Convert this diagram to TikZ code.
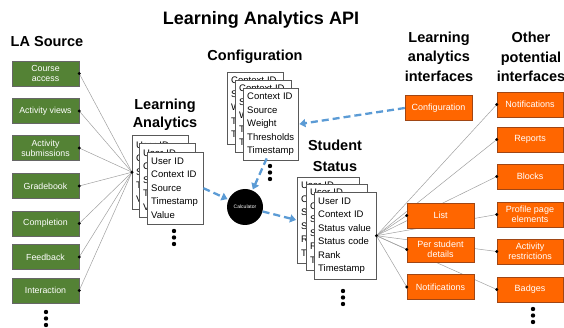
\documentclass[tikz,border=0pt]{standalone}
\usepackage{fontspec}
\setmainfont{Liberation Sans}
\usetikzlibrary{arrows.meta,backgrounds}
\definecolor{lagreen}{RGB}{84,130,53}
\definecolor{laorange}{RGB}{255,102,0}
\definecolor{laorangeb}{RGB}{160,70,20}
\definecolor{lablue}{RGB}{91,155,213}
\definecolor{laline}{RGB}{160,160,160}
\begin{document}
\begin{tikzpicture}[x=1pt,y=-1pt,
  gbox/.style={draw=gray!80!black, fill=lagreen, text=white, minimum width=67pt, minimum height=25pt, inner sep=1pt, align=center, font=\fontsize{8.8}{10}\selectfont},
  obox/.style={draw=laorangeb, fill=laorange, text=white, minimum width=67pt, minimum height=25pt, inner sep=1pt, align=center, font=\fontsize{9}{10.5}\selectfont},
  card/.style={draw=gray!70!black, fill=white, anchor=north west, inner xsep=4pt, inner ysep=0pt, align=left, font=\fontsize{9.5}{13.5}\selectfont},
  heading/.style={align=center, font=\bfseries\fontsize{14.5}{19.5}\selectfont},
  conn/.style={draw=laline, line width=0.5pt},
  dasharrow/.style={draw=lablue, line width=2.3pt, dash pattern=on 7pt off 4pt, -{Triangle[length=6pt,width=8pt]}, shorten >=1pt},
  dotb/.style={circle, fill=black, inner sep=0pt, minimum size=3.2pt},
  bigdot/.style={circle, fill=black, inner sep=0pt, minimum size=4.4pt}
]
\useasboundingbox (0,0) rectangle (564,328);

% Titles
\node[font=\bfseries\fontsize{18}{20}\selectfont] (title) at (261,20) {Learning Analytics API};
\node[heading] (hsrc) at (47,42) {LA Source};
\node[heading, font=\bfseries\fontsize{14.5}{18}\selectfont] (hla) at (165,115) {Learning\\Analytics};
\node[heading] (hcfg) at (255,57) {Configuration};
\node[heading, font=\bfseries\fontsize{14.5}{21}\selectfont] (hss) at (335,156) {Student\\Status};
\node[heading] (hli) at (439,56.5) {Learning\\analytics\\interfaces};
\node[heading] (hoi) at (531,57) {Other\\potential\\interfaces};

% LA sources
\node[gbox] (g1) at (45.5,73.5) {Course\\access};
\node[gbox] (g2) at (45.5,111) {Activity views};
\node[gbox] (g3) at (45.5,148) {Activity\\submissions};
\node[gbox] (g4) at (45.5,186) {Gradebook};
\node[gbox] (g5) at (45.5,223.5) {Completion};
\node[gbox] (g6) at (45.5,257) {Feedback};
\node[gbox] (g7) at (45.5,290.5) {Interaction};

% Learning analytics cards
\node[card, text width=48pt, minimum height=74pt] (la1) at (132,135) {User ID\\Context ID\\Source\\Timestamp\\Value};
\node[card, text width=48pt, minimum height=74pt] (la2) at (139,143) {User ID\\Context ID\\Source\\Timestamp\\Value};
\node[card, text width=48pt, minimum height=72pt] (la3) at (147,152) {User ID\\Context ID\\Source\\Timestamp\\Value};

% Configuration cards
\node[card, text width=48pt, minimum height=72pt] (cf1) at (227,72) {Context ID\\Source\\Weight\\Thresholds\\Timestamp};
\node[card, text width=48pt, minimum height=72pt] (cf2) at (235,80) {Context ID\\Source\\Weight\\Thresholds\\Timestamp};
\node[card, text width=47pt, minimum height=72pt] (cf3) at (243,88) {Context ID\\Source\\Weight\\Thresholds\\Timestamp};

% Student status cards
\node[card, text width=54pt, minimum height=86pt] (ss1) at (297,177) {User ID\\Context ID\\Status value\\Status code\\Rank\\Timestamp};
\node[card, text width=53pt, minimum height=86pt] (ss2) at (306,184) {User ID\\Context ID\\Status value\\Status code\\Rank\\Timestamp};
\node[card, text width=54pt, minimum height=87pt] (ss3) at (314,192) {User ID\\Context ID\\Status value\\Status code\\Rank\\Timestamp};

% Calculator
\node[circle, fill=black, minimum size=36pt, inner sep=0pt, text=white, font=\fontsize{5}{6}\selectfont] (calc) at (245,207) {Calculator};

% Interfaces
\node[obox] (ci) at (438.5,108) {Configuration};
\node[obox] (li) at (440.5,215.5) {List};
\node[obox] (pi) at (440.5,249.5) {Per student\\details};
\node[obox] (ni) at (440.5,287) {Notifications};
\node[obox, minimum width=66pt] (r1) at (530,104.5) {Notifications};
\node[obox, minimum width=66pt] (r2) at (530,139.5) {Reports};
\node[obox, minimum width=66pt] (r3) at (530,176.5) {Blocks};
\node[obox, minimum width=66pt] (r4) at (530,214.5) {Profile page\\elements};
\node[obox, minimum width=66pt] (r5) at (530,251.5) {Activity\\restrictions};
\node[obox, minimum width=66pt] (r6) at (530,289.5) {Badges};

% Connectors behind
\begin{scope}[on background layer]
\foreach \g in {g1,g2,g3,g4,g5,g6,g7} \draw[conn] (\g.east) -- (la1.west);
\foreach \r in {li,pi,ni,r1,r2,r3,r4,r5,r6} \draw[conn] (ss3.east) -- (\r.west);
\end{scope}

% Connector dots
\foreach \g in {g1,g2,g3,g4,g5,g6,g7} \node[dotb] at (\g.east) {};
\node[dotb] at (la1.west) {};
\node[dotb] at (ss3.east) {};
\foreach \r in {li,pi,ni,r1,r2,r3,r4,r5,r6} \node[dotb] at (\r.west) {};

% Dashed arrows
\draw[dasharrow] (ci.west) -- (cf3.east);
\draw[dasharrow] (la3.east) -- (calc);
\draw[dasharrow] ([xshift=-4pt,yshift=2pt]cf3.south) -- (calc);
\draw[dasharrow] (calc) -- (ss1.west);

% Vertical ellipses
\foreach \x/\y in {46/312, 174/231, 270/166, 343/291, 533/309}{
  \node[bigdot] at (\x,\y) {};
  \node[bigdot] at (\x,\y+6.5) {};
  \node[bigdot] at (\x,\y+13) {};
}
\end{tikzpicture}
\end{document}
